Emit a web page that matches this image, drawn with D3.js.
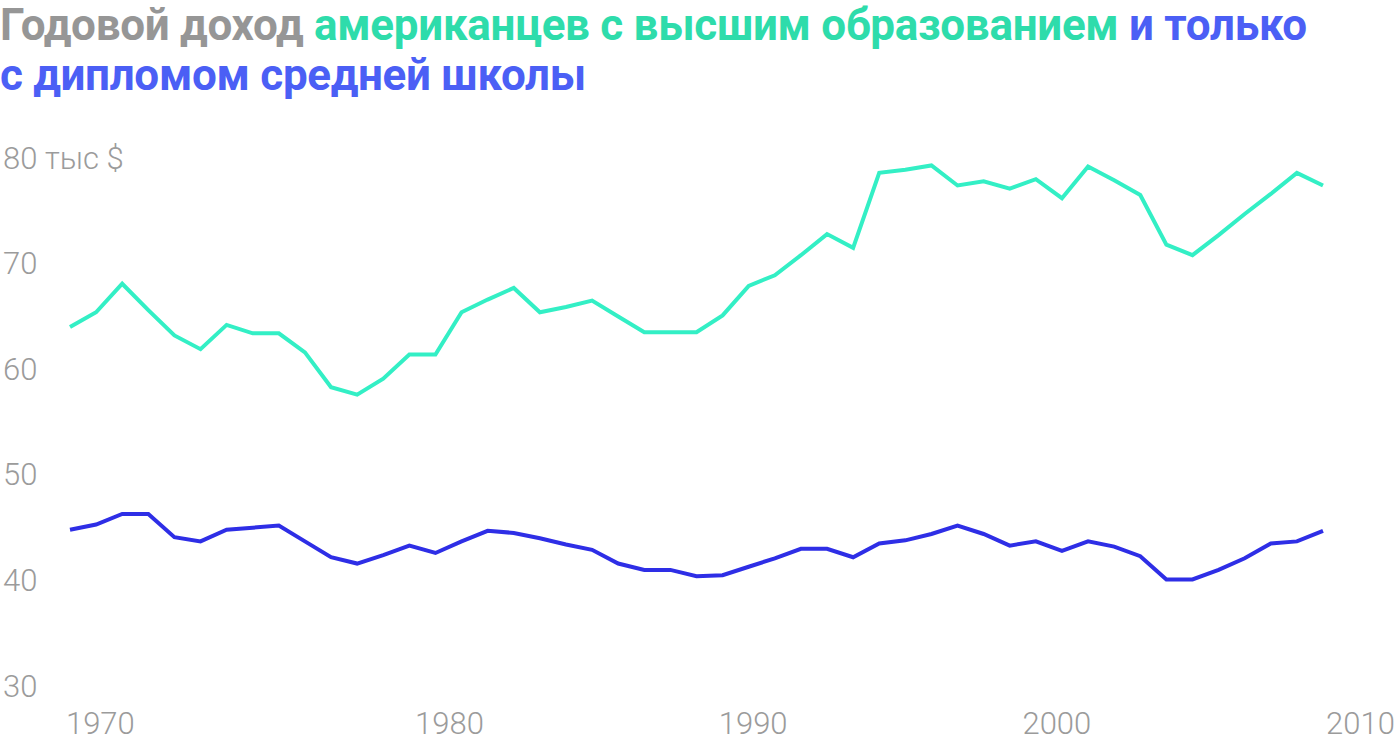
<!DOCTYPE html>
<html>
<head>
<meta charset="utf-8">
<script src="https://cdn.jsdelivr.net/npm/d3@7"></script>
<style>
  body { margin: 0; background: #fff; }
  text { font-family: Roboto, "Noto Sans", sans-serif; }
</style>
</head>
<body>
<svg id="chart" width="1400" height="744"></svg>
<script>
// annual income, thousand $, one value per year step
const collegeIncome = [63.9, 65.3, 68.0, 65.5, 63.1, 61.8, 64.1, 63.3, 63.3, 61.5,
  58.2, 57.5, 59.0, 61.3, 61.3, 65.3, 66.5, 67.6, 65.3, 65.8,
  66.4, 64.9, 63.4, 63.4, 63.4, 65.0, 67.8, 68.8, 70.7, 72.7,
  71.4, 78.5, 78.8, 79.2, 77.3, 77.7, 77.0, 77.9, 76.1, 79.1,
  77.8, 76.4, 71.7, 70.7, 72.6, 74.6, 76.5, 78.5, 77.3];
const schoolIncome = [44.7, 45.2, 46.2, 46.2, 44.0, 43.6, 44.7, 44.9, 45.1, 43.6,
  42.1, 41.5, 42.3, 43.2, 42.5, 43.6, 44.6, 44.4, 43.9, 43.3,
  42.8, 41.5, 40.9, 40.9, 40.3, 40.4, 41.2, 42.0, 42.9, 42.9,
  42.1, 43.4, 43.7, 44.3, 45.1, 44.3, 43.2, 43.6, 42.7, 43.6,
  43.1, 42.2, 40.0, 40.0, 40.9, 42.0, 43.4, 43.6, 44.6];
const tickYears = [1970, 1980, 1990, 2000, 2010];
const tickValues = [30, 40, 50, 60, 70, 80];

const svg = d3.select('#chart');

// title
const title = svg.append('text')
  .attr('font-size', 44)
  .attr('font-weight', 700)
  .attr('letter-spacing', -0.3);
const line1 = title.append('tspan').attr('x', 0).attr('y', 40);
line1.append('tspan').attr('fill', '#969696').text('Годовой доход ');
line1.append('tspan').attr('fill', '#2edcab').text('американцев с высшим образованием');
line1.append('tspan').attr('fill', '#4b5ff5').text(' и только');
title.append('tspan').attr('x', 0).attr('y', 90)
  .attr('fill', '#4b5ff5').text('с дипломом средней школы');

const steps = d3.range(collegeIncome.length);
const x = d3.scaleLinear().domain([0, steps.length - 1]).range([70, 1323]);
const y = d3.scaleLinear().domain([30, 80]).range([685, 157]);
const xYears = d3.scaleLinear().domain([1980, 2010]).range([449, 1360]);

// y labels
const yAxis = svg.append('g')
  .call(d3.axisRight(y).tickValues(tickValues).tickSize(0).tickPadding(3)
    .tickFormat(d => d === 80 ? '80 тыс $' : d));
yAxis.select('.domain').remove();
yAxis.selectAll('text')
  .attr('fill', '#9b9b9b')
  .attr('font-size', 31)
  .attr('font-weight', 300)
  .attr('font-family', 'Roboto, sans-serif')
  .attr('dy', '0.36em');

// x labels
const xAxis = svg.append('g')
  .attr('transform', 'translate(0,712)')
  .call(d3.axisBottom(xYears).tickValues(tickYears).tickSize(0).tickPadding(0)
    .tickFormat(d3.format('d')));
xAxis.select('.domain').remove();
xAxis.selectAll('text')
  .attr('fill', '#9b9b9b')
  .attr('font-size', 31)
  .attr('font-weight', 300)
  .attr('font-family', 'Roboto, sans-serif');
// the first label is pulled in towards the left edge
xAxis.selectAll('.tick').filter(d => d === 1970)
  .attr('transform', `translate(${xYears(1970) - 45},0)`);

const line = d3.line()
  .x((d, i) => x(i))
  .y(d => y(d));

svg.append('path')
  .datum(collegeIncome)
  .attr('d', line)
  .attr('fill', 'none')
  .attr('stroke', '#33efc5')
  .attr('stroke-width', 4)
  .attr('stroke-linejoin', 'miter');

svg.append('path')
  .datum(schoolIncome)
  .attr('d', line)
  .attr('fill', 'none')
  .attr('stroke', '#2e2ee6')
  .attr('stroke-width', 4)
  .attr('stroke-linejoin', 'miter');
</script>
</body>
</html>
